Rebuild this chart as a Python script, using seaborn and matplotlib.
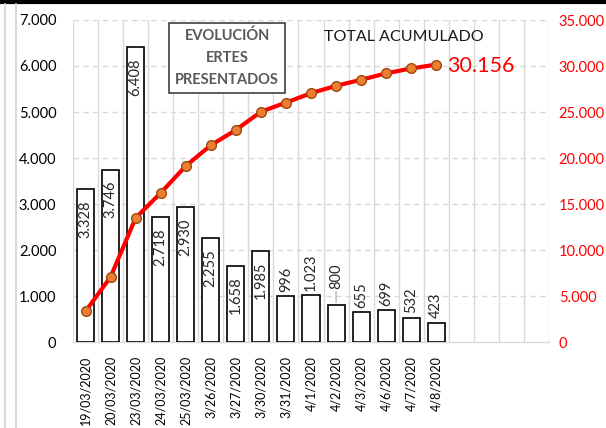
import matplotlib
matplotlib.use("Agg")
import matplotlib.pyplot as plt
import matplotlib.ticker as mticker
from matplotlib.lines import Line2D
import seaborn as sns
import numpy as np

dates = ["19/03/2020", "20/03/2020", "23/03/2020", "24/03/2020", "25/03/2020",
         "3/26/2020", "3/27/2020", "3/30/2020", "3/31/2020", "4/1/2020",
         "4/2/2020", "4/3/2020", "4/6/2020", "4/7/2020", "4/8/2020"]
ertes = [3328, 3746, 6408, 2718, 2930, 2255, 1658, 1985, 996, 1023, 800, 655, 699, 532, 423]
acumulado = [3328, 7074, 13482, 16200, 19130, 21385, 23043, 25028, 26024, 27047,
             27847, 28502, 29201, 29733, 30156]
n_slots = 19

sns.set_theme(style="white")
plt.rcParams['font.family'] = ['Lato', 'DejaVu Sans']

W, H = 606, 428
fig = plt.figure(figsize=(W / 100, H / 100), dpi=100)
fig.patch.set_facecolor("white")
ax = fig.add_axes([73 / W, 1 - 342 / H, (549 - 73) / W, (342 - 20) / H])

def fmt(v, pos=None):
    return f"{int(round(v)):,}".replace(",", ".")

sns.barplot(x=dates, y=ertes, color="white", edgecolor="black", linewidth=1.2,
            width=0.68, saturation=1, ax=ax, zorder=3)
ax.set_xlim(-0.5, n_slots - 0.5)
ax.set_ylim(0, 7000)
ax.set_yticks(np.arange(0, 7001, 1000))
ax.yaxis.set_major_formatter(mticker.FuncFormatter(fmt))
ax.set_xticks(range(len(dates)))
ax.set_xticklabels(dates, rotation=90, fontsize=9, color="black")
ax.tick_params(axis="x", length=0, pad=10)
ax.tick_params(axis="y", length=0, pad=12, labelsize=10.5, colors="black")
ax.set_xlabel("")
ax.set_ylabel("")

for y in range(1000, 7001, 1000):
    ax.axhline(y, color="#D9D9D9", lw=1, ls=(0, (4, 3)), zorder=0)
for b in np.arange(-0.5, n_slots, 1):
    ax.axvline(b, color="#D9D9D9", lw=1, zorder=0)

for s in ["top", "right", "left"]:
    ax.spines[s].set_visible(False)
ax.spines["bottom"].set_color("#D9D9D9")
ax.spines["bottom"].set_linewidth(1)

# bar labels
for i, v in enumerate(ertes):
    if v >= 1500:
        ax.annotate(fmt(v), (i, v), xytext=(0, -8), textcoords="offset points",
                    rotation=90, ha="center", va="top", fontsize=10.5, zorder=5)
    elif i == 10:
        ax.annotate(fmt(v), (i, v), xytext=(0, 12), textcoords="offset points",
                    rotation=90, ha="center", va="bottom", fontsize=10.5, zorder=5)
        ax.annotate("", (i, v), xytext=(0, 12), textcoords="offset points",
                    arrowprops=dict(arrowstyle="-", color="#A6A6A6", lw=0.8))
    else:
        ax.annotate(fmt(v), (i, v), xytext=(0, 3), textcoords="offset points",
                    rotation=90, ha="center", va="bottom", fontsize=10.5, zorder=5)

ax2 = ax.twinx()
sns.lineplot(x=list(range(len(acumulado))), y=acumulado, ax=ax2, color="#FF0000",
             lw=3, marker="o", markersize=7, markerfacecolor="#ED7D31",
             markeredgecolor="#9E480E", markeredgewidth=1, zorder=6)
ax2.set_ylim(0, 35000)
ax2.set_yticks(np.arange(0, 35001, 5000))
ax2.yaxis.set_major_formatter(mticker.FuncFormatter(fmt))
ax2.tick_params(axis="y", length=0, pad=7, labelsize=10.5, colors="#FF0000")
ax2.set_ylabel("")
for s in ["top", "right", "left", "bottom"]:
    ax2.spines[s].set_visible(False)
ax2.grid(False)

ax2.annotate(fmt(acumulado[-1]), (len(acumulado) - 1, acumulado[-1]),
             xytext=(8, -1), textcoords="offset points", ha="left", va="center",
             fontsize=15.5, color="#FF0000")

fig.text(404 / W, 1 - 37 / H, "TOTAL ACUMULADO", ha="center", va="center",
         fontsize=11.5, color="#1a1a1a")
fig.text(227 / W, 1 - 58 / H, "EVOLUCIÓN\nERTES\nPRESENTADOS", ha="center",
         va="center", fontsize=10.5, fontweight="bold", color="#595959",
         linespacing=1.75,
         bbox=dict(boxstyle="square,pad=0.4", facecolor="white",
                   edgecolor="#404040", lw=1.2))

# outer frame details
fig.add_artist(Line2D([0, 1], [1 - 1.5 / H, 1 - 1.5 / H], color="black", lw=3,
                      transform=fig.transFigure))
for x in (4.5, 15.5):
    fig.add_artist(Line2D([x / W, x / W], [0, 1 - 4 / H], color="#D9D9D9", lw=1.5,
                          transform=fig.transFigure))

fig.savefig("out.png", dpi=100, facecolor="white")
